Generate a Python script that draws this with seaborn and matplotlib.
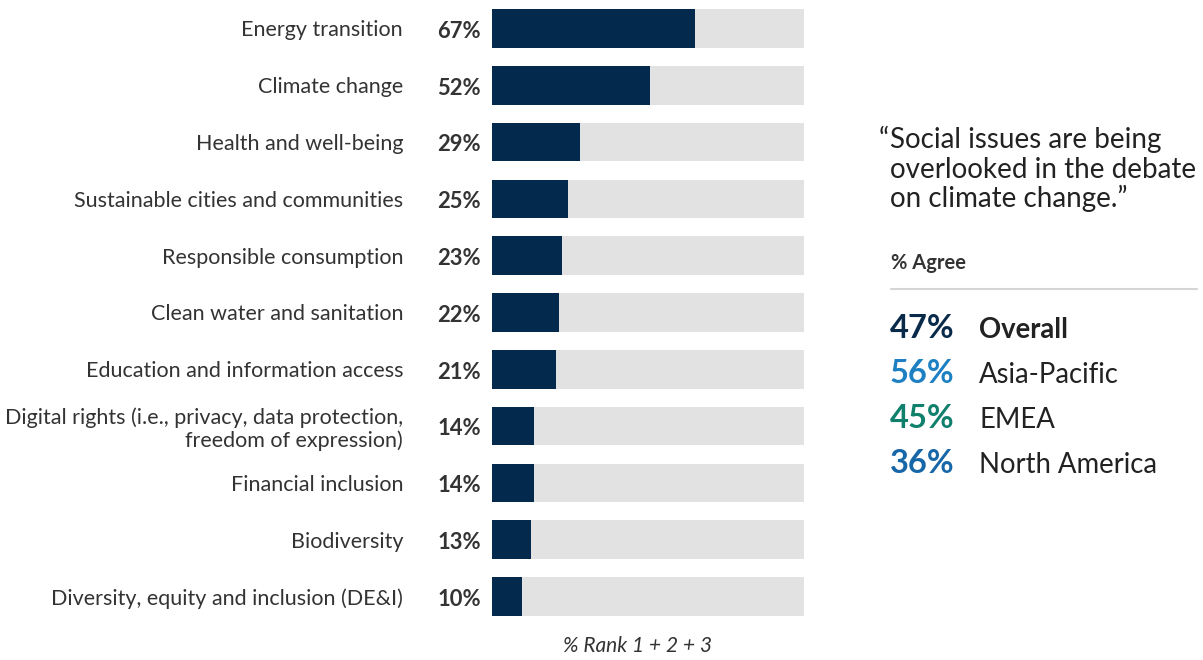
import matplotlib
matplotlib.use("Agg")
import matplotlib.pyplot as plt
import seaborn as sns
import pandas as pd

# Survey results: share ranking each topic in their top three
categories = [
    "Energy transition",
    "Climate change",
    "Health and well-being",
    "Sustainable cities and communities",
    "Responsible consumption",
    "Clean water and sanitation",
    "Education and information access",
    "Digital rights (i.e., privacy, data protection,\nfreedom of expression)",
    "Financial inclusion",
    "Biodiversity",
    "Diversity, equity and inclusion (DE&I)",
]
rank_share = [67, 52, 29, 25, 23, 22, 21, 14, 14, 13, 10]

# Agreement with the quote, by region
regions = ["Overall", "Asia-Pacific", "EMEA", "North America"]
agree_pct = [47, 56, 45, 36]

NAVY = "#03294d"
TRACK_GREY = "#e2e2e2"
TEXT = "#333333"
REGION_COLORS = ["#0a2a4a", "#1c80c3", "#10806c", "#1766a8"]
TRACK_MAX = 103

sns.set_theme(style="white")
plt.rcParams["font.family"] = ["Lato", "DejaVu Sans"]

df = pd.DataFrame({"topic": categories, "share": rank_share})
df["track"] = TRACK_MAX

W, H = 1203, 660
fig = plt.figure(figsize=(W / 100, H / 100), dpi=100)
ax = fig.add_axes([492 / W, 1 - 625 / H, 312 / W, 625 / H])

sns.barplot(data=df, x="track", y="topic", color=TRACK_GREY, width=0.68,
            saturation=1, linewidth=0, ax=ax, orient="h")
sns.barplot(data=df, x="share", y="topic", color=NAVY, width=0.68,
            saturation=1, linewidth=0, ax=ax, orient="h")

ax.set_xlim(0, TRACK_MAX)
ax.set_ylim(len(categories) - 0.5, -0.5)
ax.set_xlabel("")
ax.set_ylabel("")
ax.set_xticks([])
for s in ax.spines.values():
    s.set_visible(False)
ax.tick_params(axis="y", length=0, pad=64)
for lbl in ax.get_yticklabels():
    lbl.set_fontsize(15.5)
    lbl.set_color(TEXT)
    lbl.set_multialignment("right")
    lbl.set_linespacing(1.15)

# Value labels left of each bar
trans = matplotlib.transforms.blended_transform_factory(fig.transFigure, ax.transData)
for i, v in enumerate(rank_share):
    ax.text(481 / W, i + 0.05, f"{v}%", transform=trans, ha="right", va="center",
            fontsize=15.8, fontweight="bold", color=TEXT)

fig.text(638 / W, 1 - 646 / H, "% Rank 1 + 2 + 3", ha="center", va="center",
         fontsize=15, fontstyle="italic", color=TEXT)

# Quote panel
fig.text(879 / W, 1 - 148 / H, "\u201c", ha="left", va="baseline",
         fontsize=20, color="#222222")
quote_lines = ["Social issues are being", "overlooked in the debate", "on climate change.\u201d"]
for k, line in enumerate(quote_lines):
    fig.text(890 / W, 1 - (148 + 29.5 * k) / H, line, ha="left", va="baseline",
             fontsize=20, color="#222222")

fig.text(891 / W, 1 - 269 / H, "% Agree", ha="left", va="baseline",
         fontsize=14.5, fontweight="bold", color=TEXT)
fig.add_artist(plt.Line2D([891 / W, 1197 / W], [1 - 289 / H, 1 - 289 / H],
                          color="#d5d5d5", lw=1.5, transform=fig.transFigure))

for k, (reg, pct, col) in enumerate(zip(regions, agree_pct, REGION_COLORS)):
    y = 1 - (338 + 45 * k) / H
    fig.text(890 / W, y, f"{pct}%", ha="left", va="baseline",
             fontsize=23.5, fontweight="bold", color=col)
    fig.text(979 / W, y, reg, ha="left", va="baseline", fontsize=19.8,
             fontweight="bold" if k == 0 else "normal", color="#222222")

fig.savefig("out.png", dpi=100, facecolor="white")
